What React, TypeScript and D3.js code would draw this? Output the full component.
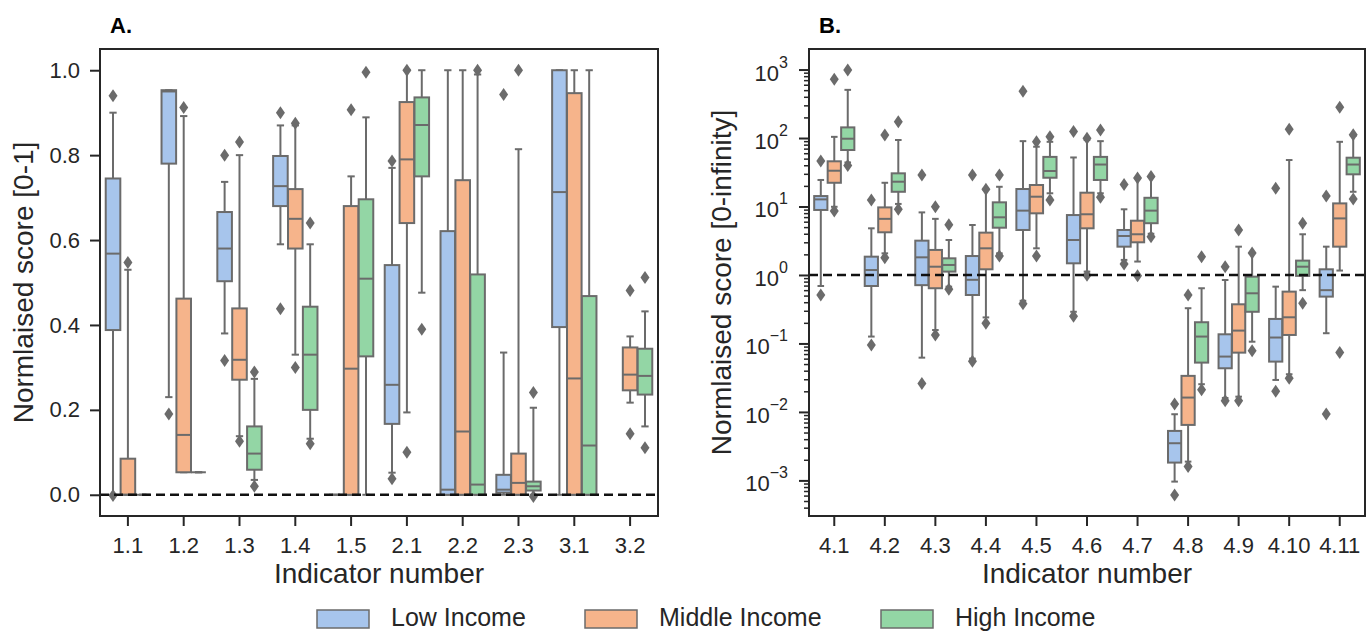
import * as d3 from 'd3';
import { useEffect, useRef } from 'react';

// each box: [whisker low, q1, median, q3, whisker high, outliers]
type Box = [number, number, number, number, number, number[]] | null;

const groups = ['Low Income', 'Middle Income', 'High Income'];
const groupColors = ['#a7c5ec', '#f6b48b', '#93d6a5'];

// Panel A - normalised score [0-1]
const indicatorsA = ['1.1', '1.2', '1.3', '1.4', '1.5', '2.1', '2.2', '2.3', '3.1', '3.2'];
const ticksA = [0, 0.2, 0.4, 0.6, 0.8, 1.0];

const lowIncomeA: Box[] = [
  [0.0, 0.388, 0.568, 0.745, 0.9, [0.94, -0.002]],
  [0.23, 0.78, 0.95, 0.953, 0.953, [0.19]],
  [0.38, 0.503, 0.58, 0.666, 0.737, [0.8, 0.316]],
  [0.59, 0.68, 0.727, 0.798, 0.87, [0.9, 0.438]],
  [0, 0, 0, 0, 0, []],
  [0.052, 0.167, 0.259, 0.541, 0.77, [0.786, 0.038]],
  [0, 0, 0.012, 0.621, 1.0, []],
  [0, 0.005, 0.012, 0.047, 0.335, [0.943]],
  [0, 0.395, 0.713, 1.0, 1.0, []],
  null,
];

const middleIncomeA: Box[] = [
  [0, 0, 0, 0.085, 0.53, [0.547]],
  [0.053, 0.053, 0.141, 0.462, 0.892, [0.912]],
  [0.138, 0.271, 0.318, 0.439, 0.8, [0.831, 0.126]],
  [0.33, 0.58, 0.65, 0.72, 0.87, [0.875, 0.3]],
  [0, 0, 0.297, 0.68, 0.75, [0.907]],
  [0.194, 0.64, 0.79, 0.925, 1.0, [1.0, 0.1]],
  [0, 0, 0.149, 0.741, 1.0, []],
  [0, 0, 0.028, 0.097, 0.814, [1.0]],
  [0, 0, 0.274, 0.946, 1.0, []],
  [0.217, 0.246, 0.283, 0.347, 0.373, [0.481, 0.144]],
];

const highIncomeA: Box[] = [
  [0, 0, 0, 0, 0, []],
  [0.053, 0.053, 0.053, 0.053, 0.053, []],
  [0.035, 0.059, 0.097, 0.161, 0.273, [0.289, 0.02]],
  [0.132, 0.2, 0.33, 0.443, 0.59, [0.64, 0.12]],
  [0, 0.326, 0.509, 0.696, 0.889, [0.995]],
  [0.476, 0.75, 0.871, 0.936, 1.0, [0.39]],
  [0, 0, 0.024, 0.519, 0.99, [1.0]],
  [0, 0.01, 0.02, 0.031, 0.205, [0.241, -0.004]],
  [0, 0, 0.116, 0.468, 1.0, []],
  [0.161, 0.236, 0.28, 0.344, 0.432, [0.512, 0.111]],
];

// Panel B - normalised score [0-infinity], log scale
const indicatorsB = ['4.1', '4.2', '4.3', '4.4', '4.5', '4.6', '4.7', '4.8', '4.9', '4.10', '4.11'];
const ticksB = [1e-3, 1e-2, 1e-1, 1, 10, 100, 1000];
const exponentsB = ['\u22123', '\u22122', '\u22121', '0', '1', '2', '3'];

const lowIncomeB: Box[] = [
  [0.69, 8.9, 12.7, 14.2, 24.4, [46, 0.51]],
  [0.126, 0.69, 1.18, 1.85, 4.8, [12.4, 0.095]],
  [0.062, 0.71, 1.81, 3.17, 8.2, [28.8, 0.026]],
  [0.06, 0.51, 0.85, 1.89, 5.37, [28.8, 0.055]],
  [0.42, 4.54, 8.7, 18, 90, [480, 0.38]],
  [0.29, 1.48, 3.24, 7.5, 52, [124, 0.25]],
  [1.66, 2.59, 3.71, 4.54, 9.1, [21, 1.45]],
  [0.00096, 0.00182, 0.00349, 0.00528, 0.00925, [0.0131, 0.00061]],
  [0.016, 0.0434, 0.0643, 0.136, 0.845, [1.32, 0.0146]],
  [0.0293, 0.0543, 0.122, 0.228, 0.675, [18.4, 0.02]],
  [0.141, 0.483, 0.6, 1.21, 2.59, [14.2, 0.0093]],
];

const middleIncomeB: Box[] = [
  [9.9, 22.2, 33.3, 45.7, 104, [720, 8.6]],
  [2.07, 4.2, 6.6, 9.7, 22.2, [111, 1.79]],
  [0.157, 0.64, 1.32, 2.32, 6.6, [9.9, 0.133]],
  [0.24, 1.21, 2.45, 4.15, 17.5, [17.8, 0.197]],
  [2.45, 7.95, 13.9, 20.6, 74.6, [88, 1.9]],
  [1.12, 4.8, 7.7, 15.9, 93.6, [99, 0.99]],
  [1.57, 3.0, 3.93, 6.2, 25.8, [26, 0.97]],
  [0.00188, 0.00646, 0.0162, 0.0336, 0.327, [0.51, 0.00159]],
  [0.0167, 0.0734, 0.154, 0.373, 2.59, [4.54, 0.0146]],
  [0.0355, 0.133, 0.241, 0.571, 47.7, [134, 0.031]],
  [1.16, 2.59, 6.7, 11.1, 88, [281, 0.074]],
];

const highIncomeB: Box[] = [
  [44, 66.8, 97.7, 143, 505, [985, 39.6]],
  [10.9, 16.4, 23, 30.5, 93.6, [173, 9.1]],
  [0.675, 1.12, 1.4, 1.75, 3.24, [5.4, 0.62]],
  [2.07, 4.9, 6.95, 11.5, 19.4, [28.8, 1.9]],
  [15.6, 26.3, 33, 53, 88, [104, 12.4]],
  [15.6, 24.4, 41, 53, 90, [131, 13.6]],
  [4.0, 5.7, 8.7, 13.4, 27, [27.5, 3.6]],
  [0.0254, 0.0525, 0.126, 0.204, 0.64, [1.85, 0.021]],
  [0.106, 0.29, 0.54, 0.945, 2.07, [2.1, 0.078]],
  [0.6, 0.97, 1.32, 1.62, 3.93, [5.7, 0.386]],
  [16.4, 29.5, 41, 51.6, 107, [112, 12.9]],
];

const FONT = '"Liberation Sans", Arial, Helvetica, sans-serif';
const INK = '#262626';
const EDGE = '#6b6b6b';

const W = 1366;
const H = 631;
const TOP = 49;
const BOTTOM = 516;

function drawPanel(svg, cfg) {
  const { left, right, cats, series, y, refValue, letter } = cfg;
  const g = svg.append('g');

  const x = d3.scaleBand().domain(cats).range([left, right]).padding(0);
  const slot = (x.bandwidth() * 0.8) / 3;
  const bw = slot * 0.98;

  const rows = [];
  series.forEach((boxes, gi) => {
    boxes.forEach((b, ci) => {
      if (!b) return;
      rows.push({ gi, cx: x(cats[ci]) + x.bandwidth() / 2 + (gi - 1) * slot, b });
    });
  });

  const box = g.selectAll('g.box').data(rows).join('g').attr('class', 'box');

  // whiskers
  box.append('line')
    .attr('x1', d => d.cx).attr('x2', d => d.cx)
    .attr('y1', d => y(d.b[3])).attr('y2', d => y(d.b[4]))
    .attr('stroke', EDGE).attr('stroke-width', 2);
  box.append('line')
    .attr('x1', d => d.cx).attr('x2', d => d.cx)
    .attr('y1', d => y(d.b[1])).attr('y2', d => y(d.b[0]))
    .attr('stroke', EDGE).attr('stroke-width', 2);
  // caps
  [0, 4].forEach(k => {
    box.append('line')
      .attr('x1', d => d.cx - bw / 4).attr('x2', d => d.cx + bw / 4)
      .attr('y1', d => y(d.b[k])).attr('y2', d => y(d.b[k]))
      .attr('stroke', EDGE).attr('stroke-width', 2);
  });
  // box body
  box.append('rect')
    .attr('x', d => d.cx - bw / 2)
    .attr('width', bw)
    .attr('y', d => y(d.b[3]))
    .attr('height', d => Math.max(0, y(d.b[1]) - y(d.b[3])))
    .attr('fill', d => groupColors[d.gi])
    .attr('stroke', EDGE).attr('stroke-width', 2);
  // median
  box.append('line')
    .attr('x1', d => d.cx - bw / 2).attr('x2', d => d.cx + bw / 2)
    .attr('y1', d => y(d.b[2])).attr('y2', d => y(d.b[2]))
    .attr('stroke', EDGE).attr('stroke-width', 2);
  // outliers
  box.selectAll('path')
    .data(d => d.b[5].map(v => ({ cx: d.cx, v })))
    .join('path')
    .attr('d', 'M0,-6.5L4.5,0L0,6.5L-4.5,0Z')
    .attr('transform', d => `translate(${d.cx},${y(d.v)})`)
    .attr('fill', EDGE);

  // reference dashed line
  g.append('line')
    .attr('x1', left).attr('x2', right)
    .attr('y1', y(refValue)).attr('y2', y(refValue))
    .attr('stroke', '#111').attr('stroke-width', 2.5)
    .attr('stroke-dasharray', '9,5');

  // frame
  g.append('rect')
    .attr('x', left).attr('y', TOP)
    .attr('width', right - left).attr('height', BOTTOM - TOP)
    .attr('fill', 'none').attr('stroke', INK).attr('stroke-width', 2);

  // x axis
  g.append('g')
    .attr('transform', `translate(0,${BOTTOM})`)
    .call(d3.axisBottom(x).tickSize(10).tickPadding(11))
    .call(a => a.select('.domain').remove())
    .attr('font-family', FONT).attr('font-size', 22)
    .style('color', INK)
    .call(a => a.selectAll('line').attr('stroke-width', 2));

  g.append('text')
    .attr('x', (left + right) / 2).attr('y', 583)
    .attr('text-anchor', 'middle')
    .attr('font-family', FONT).attr('font-size', 28).attr('fill', INK)
    .text('Indicator number');

  g.append('text')
    .attr('x', left + 10).attr('y', 33)
    .attr('font-family', FONT).attr('font-size', 22).attr('font-weight', 'bold')
    .attr('fill', '#000')
    .text(letter);

  return g;
}

const App = () => {
  const ref = useRef(null);

  useEffect(() => {
    const svg = d3.select(ref.current);
    svg.selectAll('*').remove();
    svg.attr('width', W).attr('height', H);

    svg.append('rect').attr('width', W).attr('height', H).attr('fill', '#fff');

    // ----- Panel A -----
    const yA = d3.scaleLinear().domain([-0.05, 1.05]).range([BOTTOM, TOP]);
    const gA = drawPanel(svg, {
      left: 100, right: 658, cats: indicatorsA,
      series: [lowIncomeA, middleIncomeA, highIncomeA],
      y: yA, refValue: 0, letter: 'A.',
    });
    gA.append('g')
      .attr('transform', 'translate(100,0)')
      .call(d3.axisLeft(yA).tickValues(ticksA).tickFormat(d3.format('.1f')).tickSize(10).tickPadding(10))
      .call(a => a.select('.domain').remove())
      .attr('font-family', FONT).attr('font-size', 22)
      .style('color', INK)
      .call(a => a.selectAll('line').attr('stroke-width', 2));
    gA.append('text')
      .attr('transform', `translate(33,${(TOP + BOTTOM) / 2}) rotate(-90)`)
      .attr('text-anchor', 'middle')
      .attr('font-family', FONT).attr('font-size', 28).attr('fill', INK)
      .text('Normlaised score [0-1]');

    // ----- Panel B -----
    const yB = d3.scaleLog().domain([Math.pow(10, -3.52), Math.pow(10, 3.3)]).range([BOTTOM, TOP]);
    const gB = drawPanel(svg, {
      left: 809, right: 1365, cats: indicatorsB,
      series: [lowIncomeB, middleIncomeB, highIncomeB],
      y: yB, refValue: 1, letter: 'B.',
    });
    const [lo, hi] = yB.domain();
    const minors = [];
    for (let e = -4; e <= 3; e++) {
      for (let m = 2; m <= 9; m++) {
        const v = m * Math.pow(10, e);
        if (v >= lo && v <= hi) minors.push(v);
      }
    }
    gB.append('g')
      .attr('transform', 'translate(809,0)')
      .call(d3.axisLeft(yB).tickValues(minors).tickFormat(() => '').tickSize(5))
      .call(a => a.select('.domain').remove())
      .style('color', INK)
      .call(a => a.selectAll('line').attr('stroke-width', 1.5));
    const majorAxis = gB.append('g')
      .attr('transform', 'translate(809,0)')
      .call(d3.axisLeft(yB).tickValues(ticksB).tickFormat(() => '').tickSize(10))
      .call(a => a.select('.domain').remove())
      .style('color', INK)
      .call(a => a.selectAll('line').attr('stroke-width', 2));
    const lab = majorAxis.selectAll('text.pow')
      .data(ticksB)
      .join('text')
      .attr('class', 'pow')
      .attr('x', -21)
      .attr('y', d => yB(d) + 11)
      .attr('text-anchor', 'end')
      .attr('font-family', FONT).attr('font-size', 22).attr('fill', INK);
    lab.append('tspan').text('10');
    lab.append('tspan')
      .attr('dy', -13).attr('font-size', 16)
      .text((d, i) => exponentsB[i]);
    gB.append('text')
      .attr('transform', `translate(731,${(TOP + BOTTOM) / 2}) rotate(-90)`)
      .attr('text-anchor', 'middle')
      .attr('font-family', FONT).attr('font-size', 28).attr('fill', INK)
      .text('Normlaised score [0-infinity]');

    // ----- Legend -----
    const legendX = [317, 585, 881];
    const leg = svg.append('g').selectAll('g').data(groups).join('g')
      .attr('transform', (d, i) => `translate(${legendX[i]},610)`);
    leg.append('rect')
      .attr('width', 52).attr('height', 18)
      .attr('fill', (d, i) => groupColors[i])
      .attr('stroke', EDGE).attr('stroke-width', 1.5);
    leg.append('text')
      .attr('x', 74).attr('y', 16)
      .attr('font-family', FONT).attr('font-size', 25).attr('fill', INK)
      .text(d => d);

    return () => {
      svg.selectAll('*').remove();
    };
  }, []);

  return <svg ref={ref} style={{ position: 'absolute', left: 0, top: 0, display: 'block' }}></svg>;
};

export default App;
